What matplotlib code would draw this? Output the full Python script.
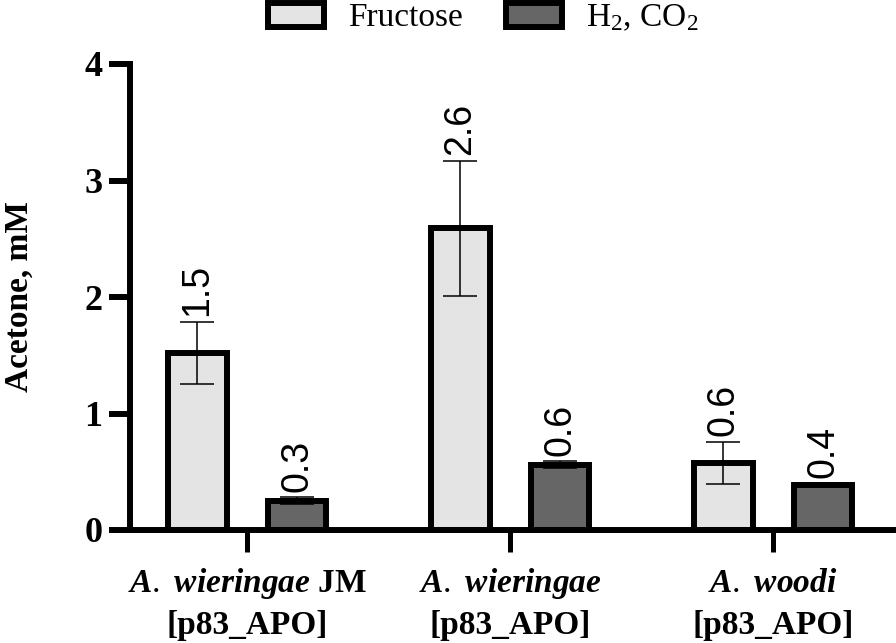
import matplotlib
matplotlib.use("Agg")
import matplotlib.pyplot as plt
import numpy as np

# ---- data ----
cat_line1 = [r"$\mathit{A.}$ $\mathit{wieringae}$ JM",
             r"$\mathit{A.}$ $\mathit{wieringae}$",
             r"$\mathit{A.}$ $\mathit{woodi}$"]
cat_line2 = ["[p83_APO]", "[p83_APO]", "[p83_APO]"]
series_names = ["Fructose", "H$_2$, CO$_2$"]
fructose = [1.52, 2.59, 0.575]
fructose_err = [0.265, 0.58, 0.18]
h2co2 = [0.25, 0.56, 0.386]
h2co2_err = [0.03, 0.03, 0.01]
fructose_labels = ["1.5", "2.6", "0.6"]
h2co2_labels = ["0.3", "0.6", "0.4"]
yticks = [0, 1, 2, 3, 4]

plt.rcParams["mathtext.fontset"] = "custom"
plt.rcParams["mathtext.rm"] = "Liberation Serif"
plt.rcParams["mathtext.it"] = "Liberation Serif:italic:bold"
plt.rcParams["mathtext.bf"] = "Liberation Serif:bold"
serif = "Liberation Serif"

fig = plt.figure(figsize=(8.96, 6.43), dpi=100)
ax = fig.add_axes([130/896, 1-530/643, (893-130)/896, (530-64)/643])

x = np.arange(len(cat_line1))
off = 0.19
w = 0.224
lw = 4.3
colors = ["#e4e4e4", "#666666"]

for vals, errs, labs, sgn, col, name in [
        (fructose, fructose_err, fructose_labels, -1, colors[0], series_names[0]),
        (h2co2, h2co2_err, h2co2_labels, 1, colors[1], series_names[1])]:
    xs = x + sgn * off
    ax.bar(xs, vals, width=w, color=col, edgecolor="black", linewidth=lw,
           label=name, zorder=2, clip_on=False)
    ax.errorbar(xs, vals, yerr=errs, fmt="none", ecolor="black",
                elinewidth=1.1, capsize=12.5, capthick=1.1, zorder=3)
    for xi, v, e, t in zip(xs, vals, errs, labs):
        ax.annotate(t, (xi, v + e), xytext=(0, 4), textcoords="offset points",
                    rotation=90, ha="center", va="bottom",
                    fontsize=27, family="Liberation Sans")

ax.set_xlim(-0.445, 2.456)
ax.set_ylim(0, 4)
ax.set_yticks(yticks)
ax.set_yticklabels([str(t) for t in yticks], family=serif, fontweight="bold", fontsize=26)
ax.set_xticks(x)
ax.set_xticklabels(["" for _ in x])
trans = ax.get_xaxis_transform()
for xi, l1, l2 in zip(x, cat_line1, cat_line2):
    ax.text(xi, (530-592)/466, l1, transform=trans, ha="center", va="baseline",
            family=serif, fontweight="bold", fontsize=24)
    ax.text(xi, (530-634)/466, l2, transform=trans, ha="center", va="baseline",
            family=serif, fontweight="bold", fontsize=24)
ax.set_ylabel("Acetone, mM", family=serif, fontweight="bold", fontsize=24)
ax.yaxis.set_label_coords(-0.1245, 0.5)

for s in ["top", "right"]:
    ax.spines[s].set_visible(False)
for s in ["left", "bottom"]:
    ax.spines[s].set_linewidth(lw)
ax.tick_params(axis="y", length=15, width=4.3, pad=5)
ax.tick_params(axis="x", length=16, width=3.6, pad=8)

fig.legend(loc="center", bbox_to_anchor=(0.539, 0.972), ncol=2, frameon=False,
           prop={"family": serif, "size": 24}, handlelength=1.7, handleheight=0.75,
           handletextpad=0.7, columnspacing=1.3)

fig.savefig("out.png", dpi=100)
